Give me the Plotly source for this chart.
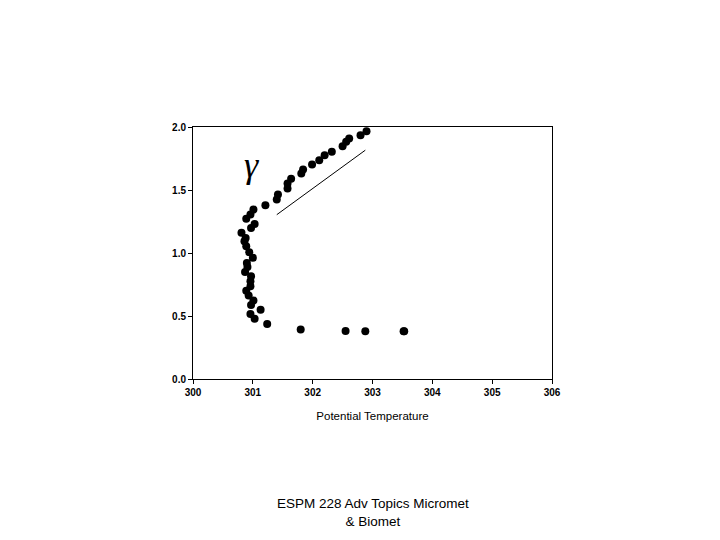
import plotly.graph_objects as go

theta = [302.90, 302.80, 302.61, 302.56, 302.50, 302.32, 302.20, 302.11, 301.99, 301.84,
         301.81, 301.64, 301.58, 301.58, 301.42, 301.40, 301.21, 301.01, 300.96, 300.89,
         301.03, 300.97, 300.81, 300.88, 300.86, 300.89, 300.94, 301.00, 300.90, 300.91,
         300.87, 300.97, 300.96, 300.96, 300.89, 300.93, 301.01, 300.97, 301.13, 300.96,
         301.03, 301.24, 301.80, 302.55, 302.88, 303.52, 303.53]
height = [1.967, 1.935, 1.909, 1.882, 1.848, 1.803, 1.776, 1.736, 1.702, 1.662,
          1.631, 1.589, 1.551, 1.512, 1.464, 1.424, 1.379, 1.345, 1.305, 1.271,
          1.231, 1.199, 1.160, 1.120, 1.093, 1.053, 1.006, 0.963, 0.921, 0.889,
          0.850, 0.815, 0.775, 0.736, 0.701, 0.662, 0.624, 0.588, 0.550, 0.516,
          0.479, 0.437, 0.392, 0.381, 0.378, 0.378, 0.378]

gamma_line_x = [301.40, 302.88]
gamma_line_y = [1.304, 1.816]
gamma_label_pos = (300.97, 1.70)

x_ticks = [300, 301, 302, 303, 304, 305, 306]
y_ticks = [0.0, 0.5, 1.0, 1.5, 2.0]

fig = go.Figure()
fig.add_trace(go.Scatter(x=theta, y=height, mode="markers",
                         marker=dict(color="black", size=8), showlegend=False))
fig.add_trace(go.Scatter(x=gamma_line_x, y=gamma_line_y, mode="lines",
                         line=dict(color="black", width=1), showlegend=False))

fig.add_annotation(x=gamma_label_pos[0], y=gamma_label_pos[1], text="<i>γ</i>",
                   showarrow=False, font=dict(family="Liberation Serif", size=36, color="black"))

fig.add_annotation(x=0.5, y=-0.455, xref="paper", yref="paper", xanchor="center", yanchor="top",
                   text="ESPM 228 Adv Topics Micromet<br>& Biomet", showarrow=False,
                   font=dict(family="Liberation Sans", size=13.5, color="black"))

axis_common = dict(showline=True, linecolor="black", linewidth=1, mirror=True,
                   ticks="outside", ticklen=4, tickcolor="black", showgrid=False, zeroline=False,
                   tickfont=dict(family="Liberation Sans", size=10, color="black", weight="bold"))

fig.update_xaxes(range=[300, 306], tickvals=x_ticks, ticktext=[str(v) for v in x_ticks],
                 title=dict(text="Potential Temperature", standoff=14,
                            font=dict(family="Liberation Sans", size=11.5, color="black")),
                 **axis_common)
fig.update_yaxes(range=[0, 2], tickvals=y_ticks, ticktext=[f"{v:.1f}" for v in y_ticks],
                 **axis_common)

fig.update_layout(width=720, height=540, paper_bgcolor="white", plot_bgcolor="white",
                  margin=dict(l=185, r=176, t=119, b=169, autoexpand=False))

fig.write_html("out.html")
